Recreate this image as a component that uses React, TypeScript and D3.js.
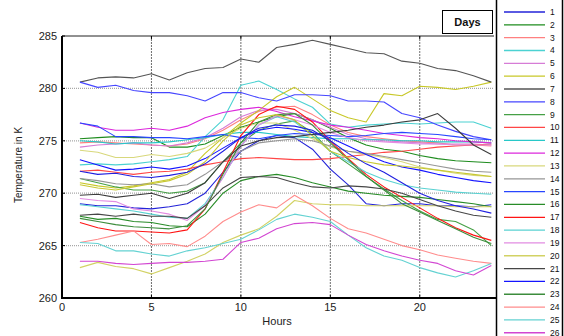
import React from 'react';
import * as d3 from 'd3';

// Hour of day for each sample
const HOURS = [1, 2, 3, 4, 5, 6, 7, 8, 9, 10, 11, 12, 13, 14, 15, 16, 17, 18, 19, 20, 21, 22, 23, 24];

// Hourly temperature (K), one array per day
const day01 = [269.0, 268.8, 268.8, 268.6, 268.5, 268.7, 269.0, 270.0, 272.0, 274.0, 275.0, 275.5, 275.3, 274.2, 272.3, 270.8, 269.0, 268.8, 269.0, 269.0, 268.8, 268.8, 268.7, 268.9];
const day02 = [275.2, 275.3, 275.4, 275.3, 275.3, 274.4, 274.4, 274.7, 275.5, 276.3, 276.8, 277.3, 277.6, 277.0, 276.2, 275.3, 274.6, 274.2, 274.0, 273.6, 273.3, 273.1, 273.0, 272.9];
const day03 = [274.8, 274.9, 274.8, 274.7, 274.6, 274.5, 274.7, 275.2, 276.0, 277.0, 277.8, 278.2, 278.3, 277.5, 276.5, 275.8, 275.4, 275.2, 275.0, 274.9, 274.8, 274.6, 274.6, 274.5];
const day04 = [272.7, 272.8, 272.7, 272.8, 273.0, 273.2, 273.5, 275.4, 277.0, 280.3, 280.7, 279.9, 279.0, 278.2, 276.6, 276.3, 276.5, 276.6, 276.7, 276.6, 276.7, 276.8, 276.8, 276.2];
const day05 = [274.4, 274.6, 274.7, 274.8, 274.6, 274.5, 274.8, 275.3, 276.2, 277.3, 277.9, 278.0, 277.6, 277.0, 276.3, 275.6, 275.2, 275.0, 274.9, 274.8, 274.7, 274.7, 274.7, 274.6];
const day06 = [271.0, 270.7, 270.5, 270.7, 271.0, 271.3, 272.0, 273.8, 275.3, 276.7, 277.9, 279.2, 280.1, 279.0, 277.9, 277.2, 276.8, 279.5, 279.3, 280.2, 280.1, 279.9, 280.2, 280.6];
const day07 = [280.6, 281.0, 281.1, 281.0, 281.4, 280.8, 281.5, 281.9, 282.0, 282.8, 282.5, 283.9, 284.2, 284.6, 284.2, 283.8, 283.4, 283.3, 282.6, 282.4, 281.9, 281.7, 281.2, 280.6];
const day08 = [280.6, 280.1, 280.3, 279.8, 279.6, 279.6, 279.3, 278.8, 279.6, 279.6, 279.1, 278.8, 279.4, 279.4, 279.3, 278.8, 278.8, 278.7, 277.6, 277.2, 276.5, 275.9, 275.4, 275.1];
const day09 = [271.4, 271.0, 270.6, 270.3, 270.3, 270.0, 270.2, 271.0, 273.0, 274.8, 276.0, 276.6, 276.9, 275.8, 274.0, 272.8, 271.6, 270.4, 269.3, 268.3, 267.5, 267.3, 266.5, 265.0];
const day10 = [272.1, 272.2, 272.0, 271.8, 272.0, 272.1, 272.3, 272.7, 273.0, 273.3, 273.4, 273.3, 273.2, 273.2, 273.3, 273.5, 273.7, 273.9, 274.0, 274.2, 274.4, 274.5, 274.6, 274.7];
const day11 = [275.0, 274.9, 274.7, 274.8, 274.8, 274.9, 275.1, 275.3, 275.6, 275.8, 275.8, 275.6, 275.4, 275.3, 275.2, 275.2, 275.1, 275.1, 275.0, 275.0, 274.9, 274.9, 274.9, 274.8];
const day12 = [276.7, 276.3, 276.0, 276.0, 276.2, 276.0, 276.4, 277.2, 277.7, 278.0, 278.2, 277.8, 277.3, 276.9, 276.5, 276.3, 276.0, 275.7, 275.5, 275.3, 275.2, 275.0, 274.9, 274.8];
const day13 = [274.1, 273.9, 273.4, 273.4, 273.7, 273.5, 273.8, 274.3, 275.3, 276.2, 276.7, 276.7, 276.0, 275.2, 274.4, 274.0, 273.7, 273.4, 273.0, 272.5, 272.2, 271.9, 271.7, 271.6];
const day14 = [271.4, 271.2, 270.9, 270.8, 270.9, 270.6, 270.8, 271.8, 273.0, 274.0, 274.8, 275.0, 275.2, 275.0, 274.5, 274.0, 273.8, 273.5, 273.2, 272.9, 272.6, 272.3, 272.1, 272.0];
const day15 = [276.7, 276.4, 275.4, 275.4, 275.3, 275.3, 275.2, 275.4, 275.6, 275.3, 275.2, 275.5, 275.7, 275.6, 275.5, 275.4, 275.5, 275.7, 275.8, 275.7, 275.6, 275.4, 275.2, 275.1];
const day16 = [267.8, 267.5, 267.6, 267.3, 267.2, 266.9, 266.8, 268.0, 270.0, 271.2, 271.6, 271.8, 271.5, 271.0, 270.6, 270.2, 270.0, 269.8, 269.7, 269.6, 269.4, 269.2, 269.0, 268.7];
const day17 = [267.2, 266.7, 266.4, 266.4, 266.3, 266.2, 266.5, 268.5, 272.0, 275.5, 277.5, 278.3, 278.0, 276.8, 275.0, 273.3, 271.8, 270.6, 269.6, 268.6, 267.6, 266.7, 266.0, 265.5];
const day18 = [268.9, 268.7, 268.5, 268.3, 268.0, 267.7, 267.6, 269.0, 271.5, 274.5, 276.5, 277.3, 276.8, 275.5, 274.0, 273.0, 272.0, 271.3, 270.8, 270.5, 270.3, 270.1, 270.0, 269.9];
const day19 = [269.5, 269.3, 269.2, 268.5, 268.3, 268.0, 267.4, 268.8, 271.5, 274.5, 276.5, 277.4, 277.0, 276.5, 275.8, 275.3, 275.0, 274.9, 274.8, 274.7, 274.7, 274.6, 274.6, 274.6];
const day20 = [262.9, 263.4, 263.0, 262.8, 262.3, 262.9, 263.5, 264.2, 265.3, 266.0, 266.6, 267.8, 269.3, 269.0, 268.9, 268.9, 268.8, 268.8, 268.8, 268.8, 268.8, 268.7, 268.7, 268.7];
const day21 = [267.9, 268.0, 267.8, 268.0, 267.8, 267.8, 267.6, 268.8, 270.5, 271.5, 271.6, 271.5, 271.0, 270.6, 270.5, 270.7, 270.6, 270.4, 270.0, 269.4, 268.8, 268.3, 267.9, 267.7];
const day22 = [273.2, 272.7, 272.2, 272.3, 272.5, 272.3, 272.6, 273.3, 274.3, 275.3, 276.0, 276.3, 276.1, 275.8, 275.3, 274.5, 273.7, 273.0, 272.5, 272.2, 271.8, 271.5, 271.2, 271.0];
const day23 = [267.6, 267.3, 267.0, 266.8, 266.7, 266.6, 266.9, 268.5, 271.8, 274.8, 276.8, 277.5, 277.6, 276.5, 274.8, 273.2, 271.6, 270.3, 269.0, 268.2, 267.4, 266.6, 265.8, 265.2];
const day24 = [265.3, 265.6, 266.0, 266.4, 265.1, 265.2, 264.9, 265.9, 267.3, 268.2, 268.9, 268.6, 269.8, 268.8, 267.6, 266.6, 266.2, 265.6, 265.0, 264.6, 264.1, 263.8, 263.5, 263.3];
const day25 = [265.3, 265.2, 264.5, 264.5, 264.2, 264.0, 264.5, 264.8, 265.2, 265.6, 266.5, 267.5, 268.0, 267.7, 267.3, 266.0, 264.8, 264.0, 263.6, 262.9, 262.4, 262.0, 262.6, 263.3];
const day26 = [263.5, 263.5, 263.3, 263.2, 263.3, 263.4, 263.4, 263.5, 263.7, 265.3, 265.7, 266.6, 267.1, 267.2, 267.0, 266.0, 265.1, 264.5, 264.0, 263.6, 263.3, 262.6, 262.2, 263.1];
const day27 = [270.8, 270.5, 270.3, 270.6, 270.9, 271.2, 271.8, 273.0, 275.0, 276.5, 277.2, 277.5, 277.0, 275.5, 274.0, 273.4, 273.0, 272.7, 272.6, 272.4, 272.2, 272.0, 271.8, 271.6];
const day28 = [269.8, 269.9, 269.6, 269.8, 270.0, 269.5, 270.0, 271.0, 273.0, 274.5, 275.0, 275.3, 275.4, 275.6, 275.8, 276.0, 276.3, 276.5, 276.8, 277.0, 277.6, 276.2, 274.6, 273.7];
const day29 = [272.1, 271.8, 271.9, 271.6, 271.5, 271.7, 272.0, 272.8, 274.0, 275.3, 276.2, 276.5, 276.4, 276.0, 275.0, 273.8, 272.8, 272.0, 271.0, 270.0, 269.3, 268.8, 268.5, 268.1];

const DAYS = [day01, day02, day03, day04, day05, day06, day07, day08, day09, day10,
  day11, day12, day13, day14, day15, day16, day17, day18, day19, day20,
  day21, day22, day23, day24, day25, day26, day27, day28, day29];

const DAY_LABELS = DAYS.map((_, i) => String(i + 1));

const DAY_COLORS = [
  '#2323d8', '#1e8c1e', '#ff8080', '#4cd2d2', '#d67cd6', '#c8c828', '#555555',
  '#4646ff', '#46a046', '#ff4646', '#28c8c8', '#dc28dc', '#d8d87c', '#969696',
  '#2846ff', '#288c28', '#ff1414', '#5ad2d2', '#e28ce2', '#d2d264', '#464646',
  '#1414ff', '#3c8c3c', '#ff8c8c', '#64d2d2', '#d246d2', '#c8c832', '#3c3c3c',
  '#2020e0',
];

const X_TICKS = [0, 5, 10, 15, 20];
const Y_TICKS = [260, 265, 270, 275, 280, 285];
const X_GRID = [5, 10, 15, 20];
const Y_GRID = [265, 270, 275, 280];

const FONT = '"Liberation Sans", Arial, Helvetica, sans-serif';

const WIDTH = 564;
const HEIGHT = 336;

export default function App() {
  const left = 62;
  const right = 494;
  const top = 36;
  const bottom = 298;

  const x = d3.scaleLinear().domain([0, 24.15]).range([left, right]);
  const y = d3.scaleLinear().domain([260, 285]).range([bottom, top]);

  const line = d3
    .line<number>()
    .x((_, i) => x(HOURS[i]))
    .y((d) => y(d));

  const legendX0 = 504;
  const legendX1 = 545;
  const legendY0 = 12;
  const legendStep = 12.83;

  // only the legend rows whose key line lands on the canvas
  const legendRows = DAYS.map((_, i) => i).filter((i) => legendY0 + i * legendStep < HEIGHT);

  return (
    <svg
      width={WIDTH}
      height={HEIGHT}
      style={{ position: 'fixed', left: 0, top: 0, background: '#fff' }}
      fontFamily={FONT}
    >
      <rect x={0} y={0} width={WIDTH} height={HEIGHT} fill="#fff" />

      {/* grid */}
      {X_GRID.map((g) => (
        <line key={'gx' + g} x1={x(g)} x2={x(g)} y1={top} y2={bottom}
          stroke="#6e6e6e" strokeWidth={1} strokeDasharray="2,1" />
      ))}
      {Y_GRID.map((g) => (
        <line key={'gy' + g} x1={left} x2={right} y1={y(g)} y2={y(g)}
          stroke="#a8a8a8" strokeWidth={1.2} strokeDasharray="1,1" />
      ))}

      {/* day curves */}
      <g>
        {DAYS.map((d, i) => (
          <path key={'d' + i} d={line(d) || ''} fill="none"
            stroke={DAY_COLORS[i % DAY_COLORS.length]} strokeWidth={1.1}
            strokeLinejoin="round" />
        ))}
      </g>

      {/* axes frame */}
      <line x1={left} x2={right} y1={top} y2={top} stroke="#222" strokeWidth={1} />
      <line x1={left} x2={left} y1={top} y2={bottom + 1} stroke="#000" strokeWidth={2} />
      <line x1={left - 1} x2={right + 2} y1={bottom} y2={bottom} stroke="#000" strokeWidth={2} />

      {/* ticks and tick labels */}
      {Y_TICKS.map((t) => (
        <g key={'yt' + t}>
          <line x1={left} x2={left + 3} y1={y(t)} y2={y(t)} stroke="#000" />
          <text x={left - 5} y={y(t) + 4} textAnchor="end" fontSize={11} fill="#222">{t}</text>
        </g>
      ))}
      {X_TICKS.map((t) => (
        <g key={'xt' + t}>
          <line x1={x(t)} x2={x(t)} y1={bottom} y2={bottom - 3} stroke="#000" />
          <line x1={x(t)} x2={x(t)} y1={top} y2={top + 3} stroke="#000" />
          <text x={x(t)} y={bottom + 13} textAnchor="middle" fontSize={11} fill="#222">{t}</text>
        </g>
      ))}

      {/* axis titles */}
      <text x={277} y={325} textAnchor="middle" fontSize={11} fill="#222">Hours</text>
      <text transform={`translate(22,${(top + bottom) / 2 - 2}) rotate(-90)`} textAnchor="middle"
        fontSize={10} fill="#222">Temperature in K</text>

      {/* legend title box */}
      <rect x={442.5} y={10.5} width={50} height={23} fill="#fff" stroke="#000" strokeWidth={1} />
      <text x={467.5} y={26} textAnchor="middle" fontSize={11} fontWeight="bold" fill="#111">Days</text>

      {/* legend */}
      <rect x={496.5} y={-2} width={66} height={HEIGHT + 4} fill="#fff" stroke="#000" strokeWidth={1.5} />
      {legendRows.map((i) => {
        const ly = legendY0 + i * legendStep;
        return (
          <g key={'lg' + i}>
            <line x1={legendX0} x2={legendX1} y1={ly} y2={ly}
              stroke={DAY_COLORS[i % DAY_COLORS.length]} strokeWidth={1.3} />
            <text x={550} y={ly + 3} fontSize={8.5} fill="#111">{DAY_LABELS[i]}</text>
          </g>
        );
      })}
    </svg>
  );
}
